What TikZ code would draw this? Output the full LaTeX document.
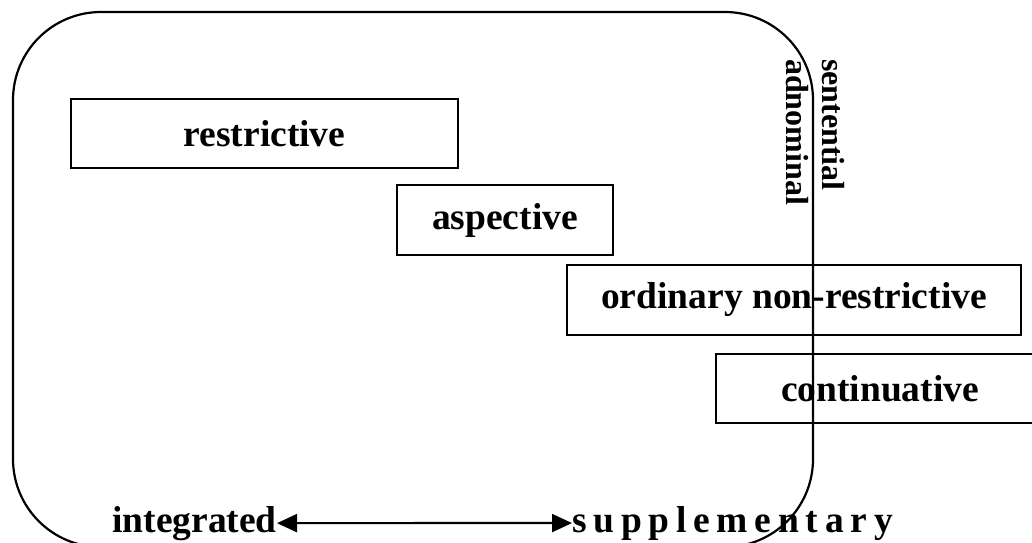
\documentclass[tikz,border=0pt]{standalone}
\usepackage{fontspec}
\setmainfont{Liberation Serif}
\usetikzlibrary{arrows.meta}
\tikzset{
  kind/.style={draw,line width=2.4pt,inner sep=0pt,font=\fontsize{37.5}{40}\selectfont\bfseries},
  side/.style={inner sep=0pt,rotate=-90,anchor=west,font=\fontsize{32}{34}\selectfont\bfseries},
  pole/.style={inner sep=0pt,font=\fontsize{37.5}{40}\selectfont\bfseries},
  tip/.tip={Triangle[length=20pt,width=18pt]}
}
\begin{document}
\begin{tikzpicture}[x=1pt,y=-1pt]
    \useasboundingbox (0,0) rectangle (1032,542);
    \clip (0,0) rectangle (1032,542);
    % Frame
    \draw[line width=2.2pt,rounded corners=88pt] (13,12) rectangle (813,547);
    % Boxes
    \node[kind,minimum width=387pt,minimum height=69pt] (restr) at (264.5,133.5) {restrictive};
    \node[kind,minimum width=216pt,minimum height=70pt] (aspec) at (505,220) {aspective};
    \node[kind,minimum width=454pt,minimum height=70pt] (ordin) at (794,300) {ordinary non-restrictive};
    \node[kind,minimum width=328pt,minimum height=69pt] (conti) at (880,388.5) {continuative};
    % Side labels
    \node[side] (adnom) at (797,59) {adnominal};
    \node[side] (sente) at (833,59) {sentential};
    % Scale
    \node[pole,anchor=base east] (integ) at (277,532) {integrated};
    \node[pole,anchor=base west] (suppl) at (572,532) {\addfontfeature{LetterSpace=18}supplementary};
    \draw[tip-tip,line width=2.2pt] (integ.east) -- (suppl.west);
  \end{tikzpicture}
\end{document}
